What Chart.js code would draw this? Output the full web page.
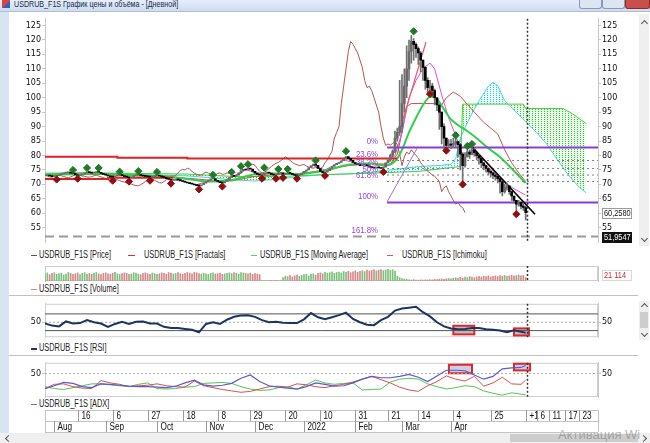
<!DOCTYPE html>
<html>
<head>
<meta charset="utf-8">
<script src="https://cdn.jsdelivr.net/npm/chart.js@4.4.1/dist/chart.umd.min.js"></script>
<style>
  body { margin:0; width:650px; height:443px; overflow:hidden; background:#fff; position:relative; font-family:'Liberation Sans', Arial, sans-serif; }
  canvas { position:absolute; left:0; }
  .frame { position:absolute; left:0; top:0; width:9px; height:443px; background:#d9e4f2; }
  .title { position:absolute; left:0; top:0; width:650px; height:11px; background:linear-gradient(#e6eefa,#cddcf1); border-bottom:1px solid #aebfd8; }
  .title .t { position:absolute; left:14px; top:-2px; font:9.5px 'Liberation Sans', sans-serif; color:#1c2b45; white-space:nowrap; transform:scaleX(0.75); transform-origin:left top; }
  .title .ic { position:absolute; left:2px; top:0; width:8px; height:8px; background:linear-gradient(135deg,#e04040 50%,#3060c0 50%); }
  .btn { position:absolute; top:0; height:8px; border:1px solid #8a9ab4; border-top:none; background:#dce6f3; border-radius:0 0 3px 3px; }
  .btn.x { background:#c9504a; border-color:#8e2a25; }
  .lg { position:absolute; font:10px 'Liberation Sans', sans-serif; color:#222; white-space:nowrap; transform:scaleX(0.74); transform-origin:left top; }
  .dash { position:absolute; height:0; border-top:1.5px solid; width:6px; }
  .sep { position:absolute; left:9px; width:629px; height:0; border-top:1px solid #c2c2c2; }
  .vscroll { position:absolute; left:639px; width:10px; background:#efefef; }
  .thumb { position:absolute; left:1px; width:8px; background:#cdcdcd; }
  .chev { position:absolute; width:4px; height:4px; border-left:1.3px solid #555; border-top:1.3px solid #555; }
  .hscroll { position:absolute; left:0; top:433px; width:650px; height:10px; background:#efefef; }
  .wm { position:absolute; left:558px; top:427px; font:13px 'Liberation Sans', sans-serif; color:rgba(120,120,120,0.55); white-space:nowrap; }
</style>
</head>
<body>
<div class="frame"></div>
<div class="title"><div class="ic"></div><div class="t">USDRUB_F1S График цены и объёма - [Дневной]</div>
  <div class="btn" style="left:579px;width:21px"></div>
  <div class="btn" style="left:602px;width:21px"></div>
  <div class="btn x" style="left:625px;width:23px"></div>
</div>

<div class="vscroll" style="top:14px;height:232px"></div>
<div class="chev" style="left:642px;top:21px;transform:rotate(45deg)"></div>
<div class="chev" style="left:642px;top:236px;transform:rotate(225deg)"></div>
<div class="vscroll" style="top:301px;height:39px"><div class="thumb" style="top:11px;height:16px"></div></div>
<div class="chev" style="left:642px;top:304px;transform:rotate(45deg)"></div>
<div class="chev" style="left:642px;top:331px;transform:rotate(225deg)"></div>

<div class="dash" style="left:31px;top:255px;border-color:#555"></div>
<div class="lg" style="left:39px;top:249px">USDRUB_F1S [Price]</div>
<div class="dash" style="left:128px;top:255px;border-color:#e03030;width:7px"></div>
<div class="lg" style="left:144px;top:249px">USDRUB_F1S [Fractals]</div>
<div class="dash" style="left:251px;top:255px;border-color:#40dd60"></div>
<div class="lg" style="left:260px;top:249px">USDRUB_F1S [Moving Average]</div>
<div class="dash" style="left:387px;top:255px;border-color:#c86060"></div>
<div class="lg" style="left:402px;top:249px">USDRUB_F1S [Ichimoku]</div>

<div class="dash" style="left:31px;top:289px;border-color:#d09090"></div>
<div class="lg" style="left:39px;top:283px">USDRUB_F1S [Volume]</div>
<div class="sep" style="top:295px"></div>
<div class="dash" style="left:31px;top:348px;border-color:#1b3563;border-top-width:2px"></div>
<div class="lg" style="left:39px;top:342px">USDRUB_F1S [RSI]</div>
<div class="sep" style="top:355px"></div>
<div class="dash" style="left:31px;top:404px;border-color:#7070d0"></div>
<div class="lg" style="left:39px;top:398px">USDRUB_F1S [ADX]</div>

<div class="hscroll"><div class="thumb" style="left:510px;top:1px;width:128px;height:8px"></div></div>
<div class="chev" style="left:6px;top:436px;transform:rotate(-45deg)"></div>
<div class="chev" style="left:641px;top:436px;transform:rotate(135deg)"></div>
<div class="wm">Активация Wi</div>

<canvas id="cPrice" width="650" height="235" style="top:13px"></canvas>
<canvas id="cVol" width="650" height="22" style="top:262px"></canvas>
<canvas id="cRsi" width="650" height="45" style="top:298px"></canvas>
<canvas id="cAdx" width="650" height="78" style="top:357px"></canvas>

<script>
// daily closes, one per trading day
const closes = [
  73.0, 73.1, 72.9, 72.7, 72.8, 73.0, 73.4, 73.7, 73.9, 74.0,
  74.1, 73.9, 73.8, 73.3, 73.0, 73.2, 73.6, 74.0, 74.3, 74.1,
  73.9, 74.1, 74.4, 74.2, 73.8, 73.5, 73.2, 72.9, 72.6, 72.5,
  72.9, 73.2, 73.4, 73.0, 72.7, 72.5, 72.3, 72.6, 73.0, 73.3,
  73.4, 73.1, 72.9, 72.8, 72.6, 72.5, 72.7, 73.0, 73.2, 72.9,
  72.6, 72.4, 72.0, 71.7, 71.4, 71.5, 71.8, 71.6, 71.3, 71.0,
  70.8, 70.5, 70.3, 70.1, 69.8, 69.6, 69.5, 69.9, 70.4, 71.0,
  71.5, 71.9, 72.0, 71.4, 71.0, 70.6, 70.5, 71.0, 71.6, 72.4,
  73.0, 72.8, 73.2, 74.0, 74.8, 75.2, 75.0, 75.6, 75.3, 74.5,
  73.9, 73.5, 73.2, 73.3, 73.8, 74.3, 73.9, 73.5, 73.2, 73.3,
  73.8, 74.0, 73.5, 73.6, 74.0, 73.8, 73.4, 73.1, 73.0, 73.4,
  73.9, 74.5, 75.0, 75.8, 76.5, 77.0, 76.6, 75.5, 74.5, 74.0,
  74.2, 74.8, 75.5, 76.2, 76.8, 77.3, 77.6, 78.2, 78.8, 79.6,
  79.0, 78.3, 77.6, 77.1, 76.8, 76.5, 76.7, 76.9, 76.4, 76.0,
  75.8, 75.6, 75.9, 75.7, 75.5, 76.0, 77.5, 78.5, 80.0, 81.5,
  86.0, 88.0, 90.0, 98.0, 104.0, 110.0, 116.0, 119.5, 118.5, 117.0,
  115.5, 113.0, 110.5, 106.0, 103.5, 104.0, 102.5, 100.0, 97.5, 95.0,
  90.0, 86.0, 83.5, 84.0, 83.6, 84.2, 84.8, 83.8, 80.5, 76.5,
  79.5, 81.2, 80.5, 82.0, 81.0, 80.0, 79.2, 77.5, 76.5, 75.5,
  74.5, 74.0, 73.2, 72.8, 72.0, 71.0, 67.5, 68.8, 69.5, 67.5,
  66.0, 64.5, 63.2, 63.8, 62.5, 62.0, 60.258
];
// highs / lows from the March spike on (bar 148 onwards)
const hiLoStart = 148;
const highs = [
  80.5, 82.0, 88.5, 89.5, 106.0, 108.0, 110.0, 118.0, 120.0, 121.5,
  120.5, 119.0, 117.5, 116.0, 113.0, 111.0, 107.0, 106.0, 105.0, 103.0,
  100.0, 97.5, 95.0, 91.0, 86.0, 85.5, 85.5, 86.0, 86.0, 85.0,
  84.2, 81.0, 81.0, 82.2, 82.0, 83.0, 82.5, 81.0, 80.2, 79.5,
  77.5, 76.5, 75.5, 75.0, 74.2, 73.8, 73.0, 72.0, 71.0, 70.0,
  70.5, 69.5, 67.5, 66.0, 64.5, 64.5, 64.0, 63.5, 62.5
];
const lows = [
  78.0, 79.5, 81.0, 85.0, 87.0, 88.0, 95.0, 100.0, 106.0, 112.0,
  113.0, 114.0, 111.5, 109.0, 106.0, 103.0, 101.5, 102.5, 100.5, 97.5,
  95.5, 89.0, 84.0, 82.5, 82.0, 82.8, 82.5, 82.8, 83.0, 79.5,
  75.0, 71.2, 76.0, 79.5, 79.0, 80.2, 79.8, 78.5, 77.0, 75.8,
  75.0, 74.2, 73.5, 72.5, 72.0, 71.5, 70.5, 67.0, 66.0, 67.0,
  68.0, 66.5, 64.5, 63.5, 61.0, 62.5, 61.5, 61.0, 57.7
];
const volumes = [
  62, 70, 55, 66, 72, 58, 64, 69, 52, 61, 74, 66, 58, 63, 70, 55, 67, 72, 60, 65,
  58, 69, 73, 61, 56, 66, 71, 63, 59, 68, 75, 62, 57, 64, 70, 66, 58, 61, 72, 68,
  60, 55, 66, 71, 63, 58, 69, 64, 57, 62, 70, 66, 59, 73, 68, 61, 65, 72, 63, 58,
  67, 74, 69, 62, 76, 71, 65, 60, 68, 63, 57, 66, 70, 61, 64, 69, 58, 62, 67, 71,
  65, 72, 68, 60, 74, 70, 66, 63, 69, 58, 64, 60, 55,
  6, 4, 5, 3, 5, 4, 6, 5, 7,
  30, 42, 38, 50, 35, 45, 52, 40, 48, 55, 60, 44, 58, 62, 50, 66,
  70, 62, 75, 68, 72, 80, 66, 74, 78, 70, 82, 76, 85, 72, 80, 88, 76, 84,
  90, 82, 95, 86, 92, 98, 88, 94, 100, 90, 96, 102, 92, 98, 85,
  40, 28, 22, 18, 15, 10, 8, 12, 9, 7, 10, 8, 11, 9, 12, 10, 14, 12, 16, 18, 15, 20, 22, 18, 25,
  28, 24, 32, 26, 35, 30, 38, 33, 28, 36, 40, 34, 42, 38, 45, 36, 40, 44, 38, 46, 42, 48, 40, 44, 50, 43, 47, 52, 45, 48, 30
];
const volLabel = '21 114';

// fractal markers [bar, value]
const fracUp = [[12,75.0],[18,75.7],[23,75.7],[32,74.4],[40,74.6],[48,74.3],[72,73.3],[80,74.3],[84,76.3],[87,77.0],
  [94,75.8],[100,75.3],[104,75.3],[116,78.3],[129,81.5],[158,123.0],[176,87.0],[181,83.3],[183,84.0]];
const fracDown = [[5,71.7],[14,72.0],[29,71.3],[36,71.0],[45,71.3],[54,70.3],[66,68.3],[76,69.3],[93,72.0],[99,72.0],
  [102,72.3],[108,72.0],[120,73.0],[145,74.3],[165,101.3],[172,81.7],[179,70.0],[202,59.7]];
const fracHiLevel = [[0,79.6],[31,79.6],[31,79.25],[61,79.25],[61,78.95],[151,78.95]];
const fracLoLevel = [[0,71.9],[27,71.9],[27,72.3],[55,72.3]];

// moving average and ichimoku lines [bar, value]
const maLine = [[0,73.3],[10,73.5],[20,73.7],[30,73.6],[40,73.1],[50,72.9],[60,72.0],[70,71.0],[80,71.5],[90,73.5],
  [100,73.8],[110,73.6],[120,74.8],[130,76.8],[140,77.2],[146,76.5],[150,78],[153,82],[156,88],[159,93],[162,97.5],
  [165,100.4],[168,99.5],[171,96],[174,92.5],[177,90.5],[180,89],[185,86],[190,82.5],[195,79.5],[200,75.5],[206,70.5]];
const tenkanLine = [[0,73.2],[10,73.8],[20,74.0],[30,73.0],[40,73.0],[50,72.6],[60,70.8],[65,69.9],[70,71.2],[75,70.8],
  [80,72.5],[86,75.2],[90,74.0],[100,73.6],[110,73.8],[115,76.5],[120,75.0],[128,78.5],[135,77.0],[140,76.2],[146,77.0],
  [150,80],[153,88],[156,100],[159,106],[162,110],[165,112],[167,110],[170,101],[173,93],[176,87],[179,80],[183,81],
  [187,78],[192,74.5],[197,70.5],[201,68.5],[206,66.3]];
const kijunLine = [[0,73.4],[20,73.4],[30,73.6],[40,73.2],[50,73.0],[60,72.2],[70,71.5],[80,71.2],[90,72.8],[100,73.4],
  [110,73.8],[120,75.0],[130,76.5],[140,77.2],[148,77.0],[151,80.5],[153,88],[155,97],[157,98],[168,98],[170,97.5],
  [172,100],[175,102],[178,100.5],[181,97.7],[184,95],[188,91.5],[194,87.5],[197,82],[200,77.5],[203,74],[206,71]];
const senkouA = [[0,73.7],[10,73.9],[20,73.8],[30,73.6],[40,73.4],[50,73.2],[60,73.0],[70,72.4],[80,71.6],[90,71.2],
  [100,71.8],[110,72.8],[120,73.4],[130,73.6],[140,74.3],[150,75.2],[160,76.2],[170,76.6],[174,77.0],[176,79],
  [178,86],[182,93],[186,99],[190,104],[192,105.3],[194,104.2],[197,99],[200,96.5],[205,92.5],[210,88.5],[215,84],
  [220,78],[225,72.5],[229,69],[232,67]];
const senkouB = [[0,73.9],[20,74.0],[40,73.8],[60,73.6],[80,72.8],[100,72.7],[120,73.4],[140,73.9],[160,74.5],[178,76.2],
  [179,97.8],[205,97.8],[206,96.3],[222,96.3],[226,94.5],[232,91]];
const chikouShift = 26;

// hand drawn objects
const upTrend = [[152,88.7],[163.3,119.3]];
const downTrend = [[183,83],[210,59.7]];
const fibDiag = [[146.6,64],[159.4,82.4]];
const fibStart = 146.6;
const fibLabelX = 142.7;
const fibNames = ['0%', '23.6%', '38.2%', '50%', '61.8%', '100%', '161.8%'];
const fibLevels = [82.77, 78.27, 75.49, 73.24, 70.99, 63.70, 51.9547];

// RSI and DMI / ADX
const rsiIdx = [0,3,6,9,12,15,18,21,24,27,30,33,36,39,42,45,48,51,54,57,60,63,66,69,72,75,78,81,84,87,90,93,96,99,
  102,105,108,111,114,117,120,123,126,129,132,135,138,141,144,147,150,153,156,159,162,165,168,171,174,177,
  180,183,186,189,192,195,198,201,204,206];
const rsiVals = [47,42,40,52,47,48,55,50,47,39,46,51,46,51,52,47,47,39,36,36,34,32,26,46,50,46,56,63,66,67,
  63,55,50,51,49,48,48,57,72,62,57,62,67,73,58,50,44,43,55,63,78,83,85,87,74,64,50,40,35,33,
  34,36,36,33,32,30,26,31,27,25];
const rsiMarks = [[175,184,21,41.6],[201,207.4,18.4,35.3]];
const dmiIdx = [0,4,8,12,16,20,24,28,32,36,40,44,48,52,56,60,64,68,72,76,80,84,88,92,96,100,104,108,112,116,
  120,124,128,132,136,140,144,148,152,156,160,164,168,172,176,180,184,188,192,196,200,204,206];
const adxVals = [18,24,31,29,22,20,28,27,25,23,22,22,21,20,23,30,36,26,23,25,29,40,47,33,24,21,19,17,22,30,
  27,23,24,30,38,44,41,41,44,48,42,33,45,57,57,56,47,38,44,60,62,63,67];
const pdiVals = [22,18,16,20,24,28,28,26,24,22,27,30,18,17,18,21,22,29,30,31,29,22,17,14,15,20,22,17,26,36,
  30,27,29,30,15,16,17,32,38,40,38,28,22,17,20,24,22,13,8,4,9,6,5];
const mdiVals = [18,27,28,22,19,18,35,30,27,22,24,25,28,24,22,21,34,24,20,16,13,10,12,17,22,23,21,28,26,22,
  20,24,27,32,38,44,37,30,21,15,12,24,33,45,38,34,44,23,30,42,28,27,36];
const adxMarks = [[173.1,183,50.6,68.8],[201,207.9,56.7,70.9]];

// axes
const X_MAX = 237;
const priceTicks = [55,60,65,70,75,80,85,90,95,100,105,110,115,120,125];
const dayTicks = [14,29,44,59,74,88,103,118,133,147,160,175,191,206,211,216,223,229];
const dayLabels = ['16','6','27','18','8','29','20','10','31','21','14','4','25','+1','6','11','17','23'];
const monthTicks = [4,26,48,69,90,111,133,153,174];
const monthLabels = ['Aug','Sep','Oct','Nov','Dec','2022','Feb','Mar','Apr'];

const lastIdx = closes.length - 1;
const cursorIdx = lastIdx + 0.5;

Chart.defaults.animation = false;
Chart.defaults.font.family = "'Liberation Sans', Arial, sans-serif";
Chart.defaults.font.size = 9;
Chart.defaults.color = '#111';
Chart.defaults.elements.point.radius = 0;
Chart.defaults.elements.line.borderWidth = 1;
Chart.defaults.elements.line.tension = 0;

const pts = arr => arr.map(([x, y]) => ({x, y}));
const SQUEEZE = 0.82;

// narrow text: the original UI font is more condensed than Liberation Sans
function narrowText(ctx, txt, x, y, align, size) {
  ctx.font = (size || 9) + "px 'Liberation Sans', sans-serif";
  const w = ctx.measureText(txt).width * SQUEEZE;
  ctx.save();
  ctx.translate(align === 'right' ? x - w : x, y);
  ctx.scale(SQUEEZE, 1);
  ctx.textAlign = 'left';
  ctx.fillText(txt, 0, 0);
  ctx.restore();
}

function dotPattern(tint, dot) {
  const c = document.createElement('canvas');
  c.width = 3; c.height = 2;
  const g = c.getContext('2d');
  g.fillStyle = tint;
  g.fillRect(0, 0, 3, 2);
  g.fillStyle = dot;
  g.fillRect(1, 0, 1, 1);
  return g.createPattern(c, 'repeat');
}

function xAxis() {
  return { type: 'linear', min: 0, max: X_MAX, display: false, offset: false };
}
function yAxis(pos, min, max, ticks, width) {
  return {
    position: pos, min, max,
    afterBuildTicks: s => { s.ticks = ticks.map(v => ({value: v})); },
    afterFit: s => { s.width = width; },
    grid: { display: true, drawOnChartArea: false, tickLength: 3, color: '#c8c8c8' },
    border: { display: true, color: '#c8c8c8' },
    ticks: { display: ticks.length > 0, padding: 1, color: '#111', autoSkip: false,
             font: { family: "'DejaVu Sans', sans-serif", size: 8 } }
  };
}
function opts(padTop, padBottom, scales) {
  return {
    responsive: false, devicePixelRatio: 1, animation: false,
    layout: { padding: { top: padTop, bottom: padBottom, left: 0, right: 0 } },
    scales,
    plugins: { legend: { display: false }, tooltip: { enabled: false } }
  };
}
function line(data, color, width, extra) {
  return Object.assign({ type: 'line', data: pts(data), borderColor: color, borderWidth: width,
    pointRadius: 0, fill: false }, extra || {});
}

const cursorPlugin = {
  id: 'cursor',
  afterDatasetsDraw(chart) {
    const {ctx, chartArea: a, scales: {x}} = chart;
    const px = Math.round(x.getPixelForValue(cursorIdx)) + 0.5;
    ctx.save();
    ctx.strokeStyle = '#333'; ctx.lineWidth = 1.5; ctx.setLineDash([2, 2]);
    ctx.beginPath(); ctx.moveTo(px, a.top); ctx.lineTo(px, a.bottom); ctx.stroke();
    ctx.restore();
  }
};
const boxPlugin = {
  id: 'box',
  beforeDatasetsDraw(chart) {
    const {ctx, chartArea: a} = chart;
    ctx.save(); ctx.strokeStyle = '#cfcfcf'; ctx.lineWidth = 1;
    ctx.strokeRect(a.left + 0.5, a.top + 0.5, a.width - 1, a.height - 1);
    ctx.restore();
  }
};
function marksPlugin(marks, fill) {
  return {
    id: 'marks',
    beforeDatasetsDraw(chart) {
      const {ctx, scales: {x, y}} = chart;
      ctx.save();
      marks.forEach(([x0, x1, y0, y1]) => {
        const l = x.getPixelForValue(x0), r = x.getPixelForValue(x1);
        const t = y.getPixelForValue(y1), b = y.getPixelForValue(y0);
        ctx.fillStyle = fill; ctx.fillRect(l, t, r - l, b - t);
        ctx.strokeStyle = '#e0262a'; ctx.lineWidth = 2; ctx.strokeRect(l, t, r - l, b - t);
      });
      ctx.restore();
    }
  };
}
function tag(ctx, left, yy, txt, bg, fg, border) {
  yy = Math.round(yy);
  ctx.fillStyle = bg; ctx.fillRect(left, yy - 5, 30, 11);
  if (border) { ctx.strokeStyle = border; ctx.lineWidth = 1; ctx.strokeRect(left + 0.5, yy - 4.5, 29, 10); }
  ctx.fillStyle = fg; ctx.textBaseline = 'middle';
  narrowText(ctx, txt, left + 2, yy + 1, 'left', 9);
}

// ---------- price panel ----------
const candleOpen = closes.map((c, i) => i > 0 ? closes[i - 1] : c);
const bodies = closes.map((c, i) => ({x: i, y: [candleOpen[i], c]}));
const bodyColors = closes.map((c, i) => c >= candleOpen[i] ? '#6a6a6a' : '#000');
const wicks = highs.map((h, k) => ({x: hiLoStart + k, y: [lows[k], h]}));
const chikou = closes.map((c, i) => [i - chikouShift, c]).filter(p => p[0] >= 0);

const pricePlugin = {
  id: 'priceExtras',
  afterDraw(chart) {
    const {ctx, chartArea: a, scales: {x, y}} = chart;
    ctx.save();
    ctx.fillStyle = '#9546d6'; ctx.textBaseline = 'bottom';
    fibNames.forEach((n, k) => narrowText(ctx, n, x.getPixelForValue(fibLabelX), y.getPixelForValue(fibLevels[k]) - 1, 'right', 9.5));
    tag(ctx, a.right + 4, y.getPixelForValue(closes[lastIdx]), closes[lastIdx].toFixed(4).replace('.', ','), '#fff', '#111', '#9a9a9a');
    tag(ctx, a.right + 4, y.getPixelForValue(fibLevels[6]), fibLevels[6].toFixed(4).replace('.', ','), '#111', '#fff', null);
    ctx.restore();
  }
};

const priceSets = [
  { type: 'line', data: pts(fracUp), showLine: false, pointStyle: 'rectRot', pointRadius: 3.6,
    pointBackgroundColor: '#1f7a26', pointBorderColor: '#1f7a26' },
  { type: 'line', data: pts(fracDown), showLine: false, pointStyle: 'rectRot', pointRadius: 3.6,
    pointBackgroundColor: '#8e0f12', pointBorderColor: '#8e0f12' },
  { type: 'bar', data: bodies, backgroundColor: bodyColors, barThickness: 2, minBarLength: 1, grouped: false },
  { type: 'bar', data: wicks, backgroundColor: '#707070', barThickness: 1, grouped: false },
  line(downTrend, '#000', 1.5),
  line(upTrend, '#f0566a', 1.2),
  line([[fibStart, fibLevels[0]], [X_MAX, fibLevels[0]]], '#8b3ad6', 2),
  line([[fibStart, fibLevels[5]], [X_MAX, fibLevels[5]]], '#8b3ad6', 2),
  line(fibDiag, '#a070e0', 1),
  ...[1, 2, 3, 4].map(k => line([[fibStart, fibLevels[k]], [X_MAX, fibLevels[k]]], '#7a7a7a', 1, { borderDash: [2, 3] })),
  line([[0, fibLevels[6]], [X_MAX, fibLevels[6]]], '#9a9a9a', 2, { borderDash: [9, 5] }),
  line(fracHiLevel, '#dd2222', 2),
  line(fracLoLevel, '#dd2222', 2),
  line(maLine, '#2fd04a', 2, { tension: 0.3 }),
  line(tenkanLine, '#e050d0', 1),
  line(kijunLine, '#c85050', 1),
  line(chikou, '#a85a50', 1),
  line(senkouB, '#44d044', 1)
];
// the cloud is filled between span A and span B
priceSets.push(line(senkouA, '#4fd4e0', 1, {
  fill: {
    target: priceSets.length - 1,
    above: dotPattern('rgba(200,245,250,0.35)', '#2cc4d8'),
    below: dotPattern('rgba(205,245,205,0.35)', '#30c830')
  }
}));

new Chart(document.getElementById('cPrice'), {
  type: 'line',
  data: { datasets: priceSets },
  options: opts(1, 2, {
    x: xAxis(),
    y: yAxis('left', 50, 127.33, priceTicks, 45),
    yr: yAxis('right', 50, 127.33, priceTicks, 52)
  }),
  plugins: [cursorPlugin, pricePlugin]
});

// ---------- volume panel ----------
const volPlugin = {
  id: 'volLabel',
  afterDraw(chart) {
    const {ctx, chartArea: a} = chart;
    ctx.save();
    tag(ctx, a.right + 4, (a.top + a.bottom) / 2 + 1, volLabel, '#fff', '#d02828', '#d8d8d8');
    ctx.restore();
  }
};
new Chart(document.getElementById('cVol'), {
  type: 'bar',
  data: {
    datasets: [{
      data: volumes.map((v, i) => ({x: i, y: v})),
      backgroundColor: closes.map((c, i) => c >= candleOpen[i] ? '#7cc07c' : '#d48a8a'),
      barThickness: 1, grouped: false
    }]
  },
  options: opts(4, 3, {
    x: xAxis(),
    y: yAxis('left', 0, 130, [], 45),
    yr: yAxis('right', 0, 130, [], 52)
  }),
  plugins: [boxPlugin, cursorPlugin, volPlugin]
});

// ---------- RSI panel ----------
new Chart(document.getElementById('cRsi'), {
  type: 'line',
  data: {
    datasets: [
      line(rsiIdx.map((x, k) => [x, rsiVals[k]]), '#1b3563', 2),
      line([[0, 70], [X_MAX, 70]], '#555', 1),
      line([[0, 30], [X_MAX, 30]], '#555', 1),
      line([[0, 50], [X_MAX, 50]], '#aaa', 1, { borderDash: [2, 2] })
    ]
  },
  options: opts(4, 3, {
    x: xAxis(),
    y: yAxis('left', 14.2, 94.2, [50], 45),
    yr: yAxis('right', 14.2, 94.2, [50], 52)
  }),
  plugins: [boxPlugin, marksPlugin(rsiMarks, 'rgba(110,110,120,0.45)'), cursorPlugin]
});

// ---------- ADX panel + date axis ----------
const datePlugin = {
  id: 'dates',
  afterDraw(chart) {
    const {ctx, chartArea: a, scales: {x}} = chart;
    const top = a.bottom + 13, mid = top + 11, bot = mid + 11;
    ctx.save();
    ctx.strokeStyle = '#c4c4c4'; ctx.lineWidth = 1;
    [top, mid, bot].forEach(yy => {
      ctx.beginPath(); ctx.moveTo(a.left, yy + 0.5); ctx.lineTo(a.right, yy + 0.5); ctx.stroke();
    });
    [a.left, a.right].forEach(xx => {
      ctx.beginPath(); ctx.moveTo(xx + 0.5, top); ctx.lineTo(xx + 0.5, bot); ctx.stroke();
    });
    ctx.fillStyle = '#111'; ctx.textBaseline = 'middle';
    ctx.strokeStyle = '#9a9a9a';
    dayTicks.forEach((d, k) => {
      const px = Math.round(x.getPixelForValue(d)) + 0.5;
      ctx.beginPath(); ctx.moveTo(px, top); ctx.lineTo(px, mid); ctx.stroke();
      narrowText(ctx, dayLabels[k], px + 3, top + 6, 'left', 10);
    });
    monthTicks.forEach((m, k) => {
      const px = Math.round(x.getPixelForValue(m)) + 0.5;
      ctx.beginPath(); ctx.moveTo(px, mid); ctx.lineTo(px, bot); ctx.stroke();
      narrowText(ctx, monthLabels[k], px + 3, mid + 6, 'left', 10);
    });
    ctx.restore();
  }
};
new Chart(document.getElementById('cAdx'), {
  type: 'line',
  data: {
    datasets: [
      line(dmiIdx.map((x, k) => [x, adxVals[k]]), '#5a5ad0', 1.2),
      line(dmiIdx.map((x, k) => [x, mdiVals[k]]), '#d85050', 1),
      line(dmiIdx.map((x, k) => [x, pdiVals[k]]), '#55c455', 1),
      line([[0, 50], [X_MAX, 50]], '#aaa', 1, { borderDash: [2, 2] })
    ]
  },
  options: opts(4, 38, {
    x: xAxis(),
    y: yAxis('left', 0, 72.9, [50], 45),
    yr: yAxis('right', 0, 72.9, [50], 52)
  }),
  plugins: [boxPlugin, marksPlugin(adxMarks, 'rgba(150,160,200,0.5)'), cursorPlugin, datePlugin]
});
</script>
</body>
</html>
